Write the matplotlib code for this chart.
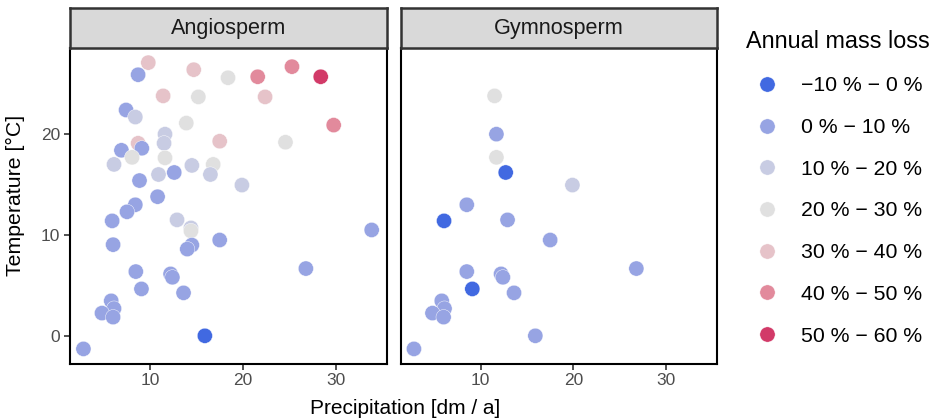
import numpy as np
import matplotlib.pyplot as plt
from matplotlib.lines import Line2D

plt.rcParams['font.family'] = ['Liberation Sans', 'DejaVu Sans']

categories = ['\u221210 % \u2212 0 %', '0 % \u2212 10 %', '10 % \u2212 20 %', '20 % \u2212 30 %',
              '30 % \u2212 40 %', '40 % \u2212 50 %', '50 % \u2212 60 %']
colors = ['#4169E1', '#97A4E3', '#C8CCE3', '#E0E0E0', '#E6C3C9', '#E28A9C', '#D23A68']

# Angiosperm: precipitation, temperature, category index
angio_precip = [9.8, 8.7, 14.7, 18.4, 21.6, 25.3, 28.4, 11.4, 15.2, 22.4,
                7.4, 8.4, 13.9, 29.8, 11.6, 11.5, 8.7, 17.5, 24.6, 6.9,
                9.1, 8.05, 11.6, 6.1, 14.5, 16.8, 10.9, 12.6, 16.5, 8.85,
                19.9, 10.8, 8.4, 7.5, 5.9, 12.9, 14.4, 14.4, 33.9, 6.0,
                14.5, 14.0, 17.5, 26.8, 8.45, 12.2, 12.4, 9.06, 13.6, 5.8,
                6.1, 4.8, 6.0, 15.9, 2.8]
angio_temp = [27.1, 25.9, 26.4, 25.6, 25.7, 26.7, 25.7, 23.8, 23.7, 23.7,
              22.4, 21.7, 21.1, 20.9, 20.0, 19.1, 19.1, 19.3, 19.2, 18.4,
              18.6, 17.7, 17.65, 17.0, 16.9, 17.0, 16.0, 16.2, 16.0, 15.4,
              14.95, 13.8, 13.0, 12.3, 11.4, 11.5, 10.7, 10.4, 10.5, 9.04,
              9.0, 8.6, 9.5, 6.67, 6.37, 6.14, 5.8, 4.65, 4.26, 3.47,
              2.7, 2.25, 1.85, 0.0, -1.3]
angio_cat = [4, 1, 4, 3, 5, 5, 6, 4, 3, 4,
             1, 2, 3, 5, 2, 2, 4, 4, 3, 1,
             1, 3, 3, 2, 2, 3, 2, 1, 2, 1,
             2, 1, 1, 1, 1, 2, 2, 3, 1, 1,
             1, 1, 1, 1, 1, 1, 1, 1, 1, 1,
             1, 1, 1, 0, 1]

# Gymnosperm
gymno_precip = [11.5, 11.7, 11.7, 12.7, 19.9, 8.5, 6.05, 12.9, 17.5, 26.8,
                8.5, 12.2, 12.4, 9.1, 13.6, 5.8, 6.1, 4.8, 6.0, 15.9, 2.8]
gymno_temp = [23.8, 20.0, 17.7, 16.2, 14.95, 13.0, 11.4, 11.5, 9.5, 6.67,
              6.37, 6.14, 5.8, 4.65, 4.26, 3.47, 2.7, 2.25, 1.85, 0.0, -1.3]
gymno_cat = [3, 1, 3, 0, 2, 1, 0, 1, 1, 1,
             1, 1, 1, 0, 1, 1, 1, 1, 1, 1, 1]

fig = plt.figure(figsize=(9.32, 4.19), dpi=100)
W, H = 932, 419
panels = [('Angiosperm', angio_precip, angio_temp, angio_cat, 70),
          ('Gymnosperm', gymno_precip, gymno_temp, gymno_cat, 400.5)]
axes = []
for title, px, py, pc, left in panels:
    ax = fig.add_axes([left / W, 1 - 363.5 / H, 316.5 / W, (363.5 - 48.5) / H])
    ax.scatter(px, py, c=[colors[c] for c in pc], s=120, edgecolors='white',
               linewidths=0.3, zorder=3)
    ax.set_xlim(1.35, 35.5)
    ax.set_ylim(-2.75, 28.5)
    ax.set_xticks([10, 20, 30])
    ax.set_yticks([0, 10, 20])
    for s in ax.spines.values():
        s.set_color('black')
        s.set_linewidth(1.5)
    ax.tick_params(axis='both', colors='#333333', labelcolor='#4D4D4D',
                   labelsize=12.5, length=4, width=1.2, pad=3)
    # facet strip
    sax = fig.add_axes([left / W, 1 - 48.5 / H, 316.5 / W, (48.5 - 8) / H])
    sax.set_xticks([])
    sax.set_yticks([])
    sax.set_facecolor('#D9D9D9')
    for s in sax.spines.values():
        s.set_color('#333333')
        s.set_linewidth(1.8)
    sax.text(0.5, 0.5, title, ha='center', va='center', fontsize=15.6,
             color='#1A1A1A', transform=sax.transAxes)
    axes.append(ax)

axes[1].tick_params(axis='y', left=False, labelleft=False)
fig.text(405 / W, 1 - 408 / H, 'Precipitation [dm / a]', ha='center', va='center', fontsize=15)
fig.text(15 / W, 1 - 195 / H, 'Temperature [\u00b0C]', ha='center', va='center',
         rotation=90, fontsize=15.3)

handles = [Line2D([], [], marker='o', linestyle='', markersize=11, markerfacecolor=c,
                  markeredgecolor='white', markeredgewidth=0.3) for c in colors]
fig.legend(handles, categories, title='Annual mass loss', loc='upper left',
           bbox_to_anchor=(737 / W, 1 - 22 / H), frameon=False, fontsize=15.3,
           title_fontsize=16.8, labelspacing=1.07, handletextpad=0.62,
           alignment='left', borderaxespad=0)

fig.savefig('out.png', dpi=100)
